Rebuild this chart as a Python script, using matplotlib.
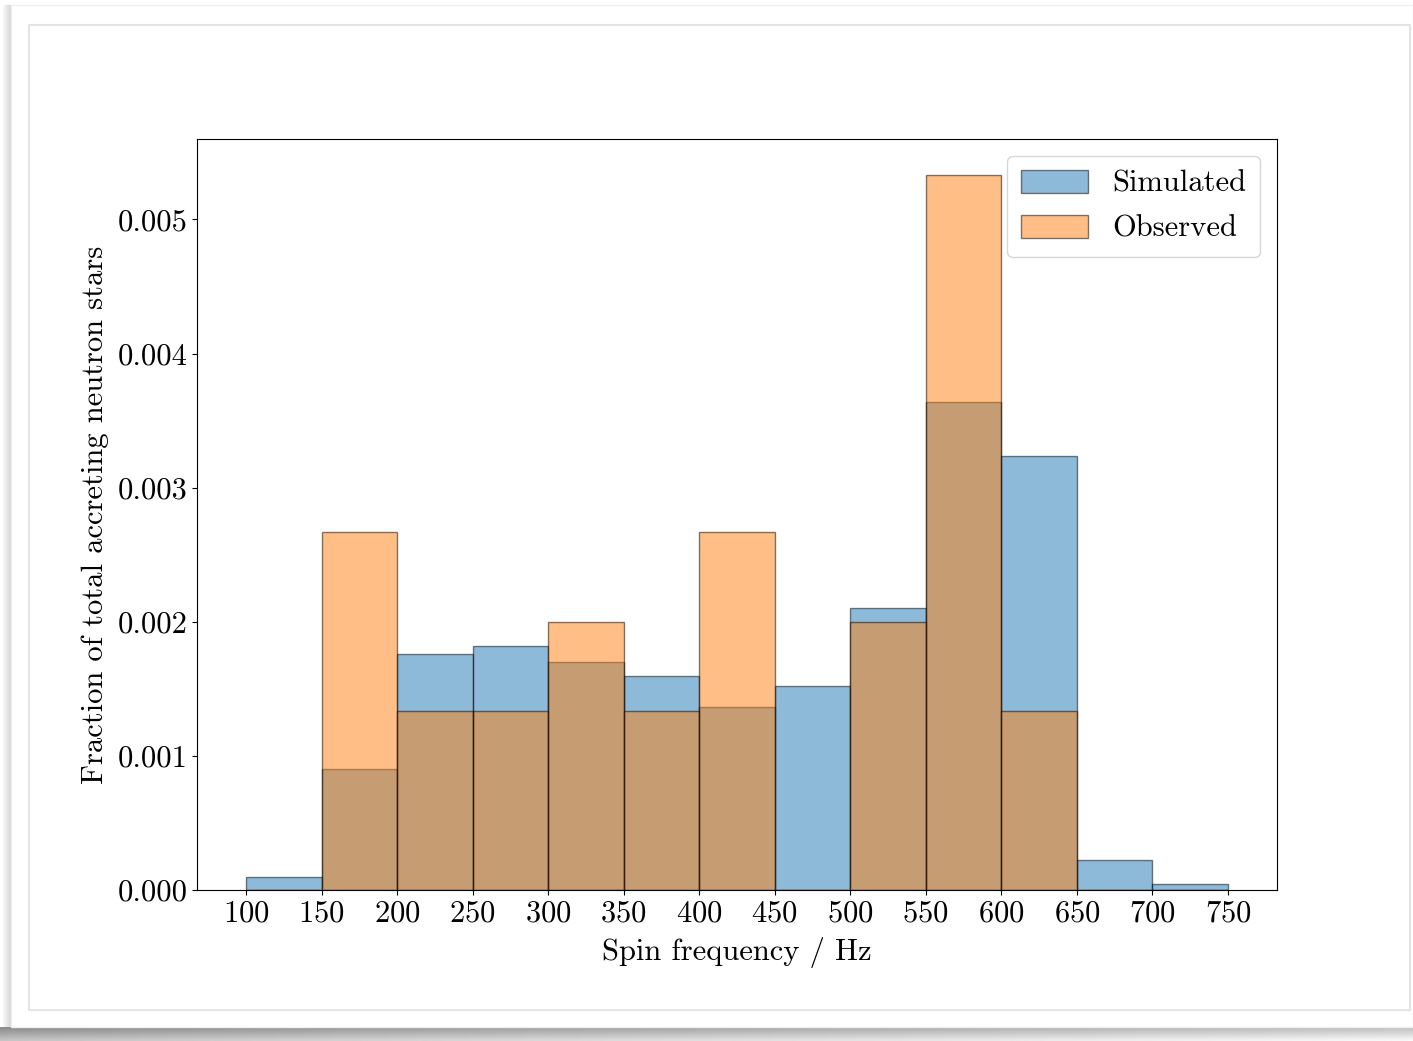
import matplotlib
matplotlib.use('Agg')
import matplotlib.pyplot as plt
import numpy as np
from matplotlib.patches import Rectangle

# bin edges (Hz) and the two normalised histograms
bin_edges = [100, 150, 200, 250, 300, 350, 400, 450, 500, 550, 600, 650, 700, 750]
sim_density = [0.000097, 0.000903, 0.001761, 0.001821, 0.001701, 0.001597, 0.001366,
               0.001522, 0.002104, 0.003642, 0.003239, 0.000224, 0.000045]
obs_density = [0.0, 0.002667, 0.001333, 0.001333, 0.002, 0.001333, 0.002667,
               0.0, 0.002, 0.005333, 0.001333, 0.0, 0.0]
xticks = [100, 150, 200, 250, 300, 350, 400, 450, 500, 550, 600, 650, 700, 750]

plt.rcParams['font.family'] = 'cmr10'
plt.rcParams['axes.formatter.use_mathtext'] = True
plt.rcParams['mathtext.fontset'] = 'cm'
plt.rcParams['font.size'] = 22

W, H = 1413, 1041
fig = plt.figure(figsize=(W / 100, H / 100), dpi=100)

# screenshot card: shadow underneath and on the left, thin inner frame
shadow = fig.add_axes([0, 0, 1, 14 / H])
grad = np.linspace(0.55, 0.75, 256)[None, :] * np.ones((8, 1))
grad = grad + np.linspace(0.0, 0.22, 8)[:, None]
shadow.imshow(np.clip(grad, 0, 1), cmap='gray', vmin=0, vmax=1, aspect='auto')
shadow.axis('off')
left_sh = fig.add_axes([3 / W, 14 / H, 8 / W, 1 - 19 / H])
left_sh.imshow(np.linspace(0.97, 0.84, 16)[None, :] * np.ones((4, 1)),
               cmap='gray', vmin=0, vmax=1, aspect='auto')
left_sh.axis('off')
fig.patches.append(Rectangle((11 / W, 14 / H), 1 - 11 / W, 1 - 19 / H,
                             transform=fig.transFigure, fill=False,
                             edgecolor='#f0f0f0', linewidth=1))
fig.patches.append(Rectangle((29 / W, 31 / H), (1410 - 29) / W, (1016 - 31) / H,
                             transform=fig.transFigure, fill=False,
                             edgecolor='#e4e4e4', linewidth=1.5))

ax = fig.add_axes([197 / W, 1 - 890 / H, (1277 - 197) / W, (890 - 139) / H])
centres = [(a + b) / 2 for a, b in zip(bin_edges[:-1], bin_edges[1:])]
ax.hist(centres, bins=bin_edges, weights=sim_density, alpha=0.5, ec='k',
        color='C0', label='Simulated')
ax.hist(centres, bins=bin_edges, weights=obs_density, alpha=0.5, ec='k',
        color='C1', label='Observed')

ax.set_xticks(xticks)
ax.set_yticks([0, 0.001, 0.002, 0.003, 0.004, 0.005])
ax.set_yticklabels(['0.000', '0.001', '0.002', '0.003', '0.004', '0.005'])
ax.set_xlabel('Spin frequency / Hz', labelpad=7)
ax.set_ylabel('Fraction of total accreting neutron stars', labelpad=6)
ax.legend(loc='upper right', handlelength=2.2, handleheight=0.8,
          labelspacing=0.55, borderpad=0.45, handletextpad=0.8,
          borderaxespad=0.55)

fig.savefig('out.png', dpi=100)
